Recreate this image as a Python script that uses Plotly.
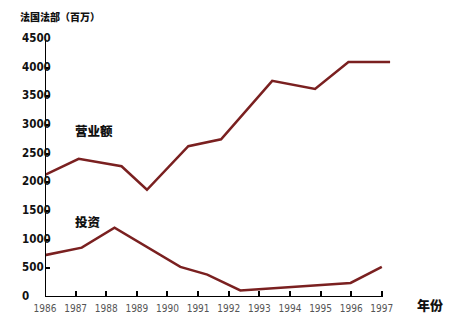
import plotly.graph_objects as go

# Turnover (营业额) and investment (投资), millions, by year
sales_years = [1986, 1987.1, 1988.5, 1989.33, 1990.68, 1991.75, 1993.42, 1994.82, 1995.91, 1997.27]
sales_vals = [2130, 2410, 2280, 1870, 2630, 2750, 3770, 3630, 4100, 4100]

invest_years = [1986, 1987.2, 1988.27, 1990.42, 1991.3, 1992.38, 1995.98, 1997.0]
invest_vals = [730, 860, 1210, 525, 390, 115, 245, 525]

year_ticks = list(range(1986, 1998))
year_labels = [str(y) for y in year_ticks]
value_ticks = [0, 500, 1000, 1500, 2000, 2500, 3000, 3500, 4000, 4500]
value_labels = [str(v) for v in value_ticks]

LINE = "#7a2020"
NARROW = "Liberation Sans Narrow, Arial Narrow, DejaVu Sans Condensed, sans-serif"
CJK = "Noto Sans CJK SC, sans-serif"

fig = go.Figure()
fig.add_trace(go.Scatter(x=sales_years, y=sales_vals, mode="lines",
                         line=dict(color=LINE, width=2.5), cliponaxis=False,
                         hoverinfo="skip"))
fig.add_trace(go.Scatter(x=invest_years, y=invest_vals, mode="lines",
                         line=dict(color=LINE, width=2.5), cliponaxis=False,
                         hoverinfo="skip"))

# axis lines
fig.add_shape(type="line", x0=1986, x1=1997, y0=0, y1=0, xref="x", yref="y",
              line=dict(color="black", width=2))
fig.add_shape(type="line", x0=1986, x1=1986, y0=0, y1=4500, xref="x", yref="y",
              line=dict(color="black", width=2))

# left-aligned value labels
for v, t in zip(value_ticks, value_labels):
    fig.add_annotation(x=-0.072, xref="paper", y=v, yref="y", text=t,
                       showarrow=False, xanchor="left", yanchor="middle", yshift=1,
                       font=dict(family=NARROW, size=11.5, color="#111", weight=700))

fig.add_annotation(x=-0.078, xref="paper", y=1.089, yref="paper",
                   text="法国法部（百万）", showarrow=False,
                   xanchor="left", yanchor="middle",
                   font=dict(family=CJK, size=10, color="#111", weight=900))
fig.add_annotation(x=1986.92, xref="x", y=2905, yref="y", text="营业额",
                   showarrow=False, xanchor="left", yanchor="middle",
                   font=dict(family=CJK, size=12.5, color="#111", weight=900))
fig.add_annotation(x=1986.92, xref="x", y=1320, yref="y", text="投资",
                   showarrow=False, xanchor="left", yanchor="middle",
                   font=dict(family=CJK, size=12.5, color="#111", weight=900))
fig.add_annotation(x=1.07, xref="paper", y=-0.03, yref="paper", text="年份",
                   showarrow=False, xanchor="left", yanchor="middle",
                   font=dict(family=CJK, size=13, color="#111", weight=900))

fig.update_layout(
    width=453, height=323,
    margin=dict(l=45, r=62, t=39, b=26, autoexpand=False),
    paper_bgcolor="white", plot_bgcolor="white",
    showlegend=False,
    xaxis=dict(range=[1986, 1997.3], tickvals=year_ticks, ticktext=year_labels,
               ticks="inside", ticklen=6, tickwidth=2, tickcolor="black",
               ticklabelstandoff=4, automargin=False,
               showgrid=False, zeroline=False, showline=False,
               tickfont=dict(family=NARROW, size=10, color="#555")),
    yaxis=dict(range=[0, 4500], tickvals=value_ticks, showticklabels=False,
               ticks="inside", ticklen=5, tickwidth=2, tickcolor="black",
               automargin=False,
               showgrid=False, zeroline=False, showline=False),
)

fig.write_html("out.html")
